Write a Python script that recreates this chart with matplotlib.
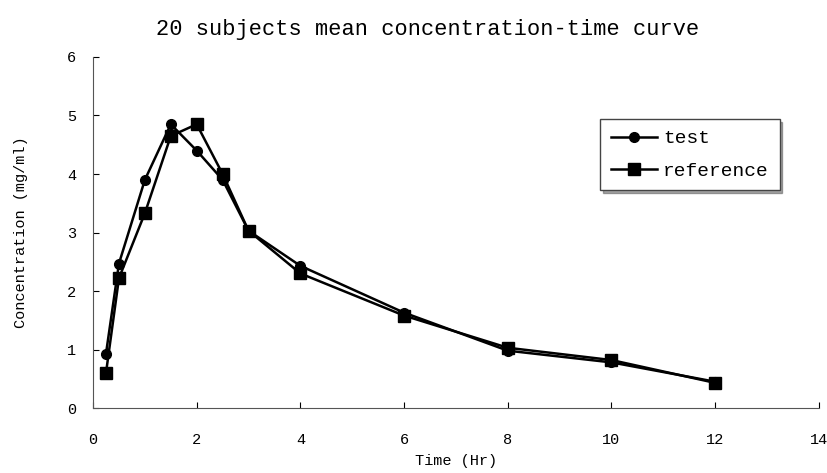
import matplotlib
matplotlib.use("Agg")
import matplotlib.pyplot as plt

# sampling times (hr)
time = [0.25, 0.5, 1, 1.5, 2, 2.5, 3, 4, 6, 8, 10, 12]

# mean concentrations (mg/ml)
test = [0.93, 2.47, 3.9, 4.85, 4.4, 3.9, 3.03, 2.43, 1.63, 0.98, 0.78, 0.45]
reference = [0.6, 2.22, 3.33, 4.65, 4.85, 4.0, 3.03, 2.3, 1.58, 1.03, 0.82, 0.43]

xticks = [0, 2, 4, 6, 8, 10, 12, 14]
yticks = [0, 1, 2, 3, 4, 5, 6]

plt.rcParams["font.family"] = ["Liberation Mono", "DejaVu Sans Mono"]

fig = plt.figure(figsize=(8.27, 4.73), dpi=100)
ax = fig.add_axes([0.1125, 0.1374, 0.8775, 0.7421])

ax.plot(time, test, color="black", lw=1.8, marker="o", ms=7, label="test")
ax.plot(time, reference, color="black", lw=1.8, marker="s", ms=8, label="reference")

ax.set_xlim(0, 14)
ax.set_ylim(0, 6)
ax.set_xticks(xticks)
ax.set_yticks(yticks)
ax.tick_params(direction="in", length=4, labelsize=11)
ax.tick_params(axis="x", pad=18)
ax.tick_params(axis="y", pad=12)
for side in ["top", "right"]:
    ax.spines[side].set_visible(False)
for side in ["left", "bottom"]:
    ax.spines[side].set_color("#555555")

# title sits a bit left of the axes centre in the original
ax.set_title("20 subjects mean concentration-time curve", fontsize=15.8, pad=16, x=0.461)
ax.set_xlabel("Time (Hr)", fontsize=11, labelpad=5)
ax.set_ylabel("Concentration (mg/ml)", fontsize=11, labelpad=28)

leg = ax.legend(loc="upper right", bbox_to_anchor=(0.946, 0.823), fontsize=14,
                fancybox=False, shadow=True, edgecolor="#444444", borderpad=0.55,
                handlelength=2.4, handletextpad=0.3, labelspacing=0.75,
                borderaxespad=0, framealpha=1)

fig.savefig("out.png", dpi=100)
